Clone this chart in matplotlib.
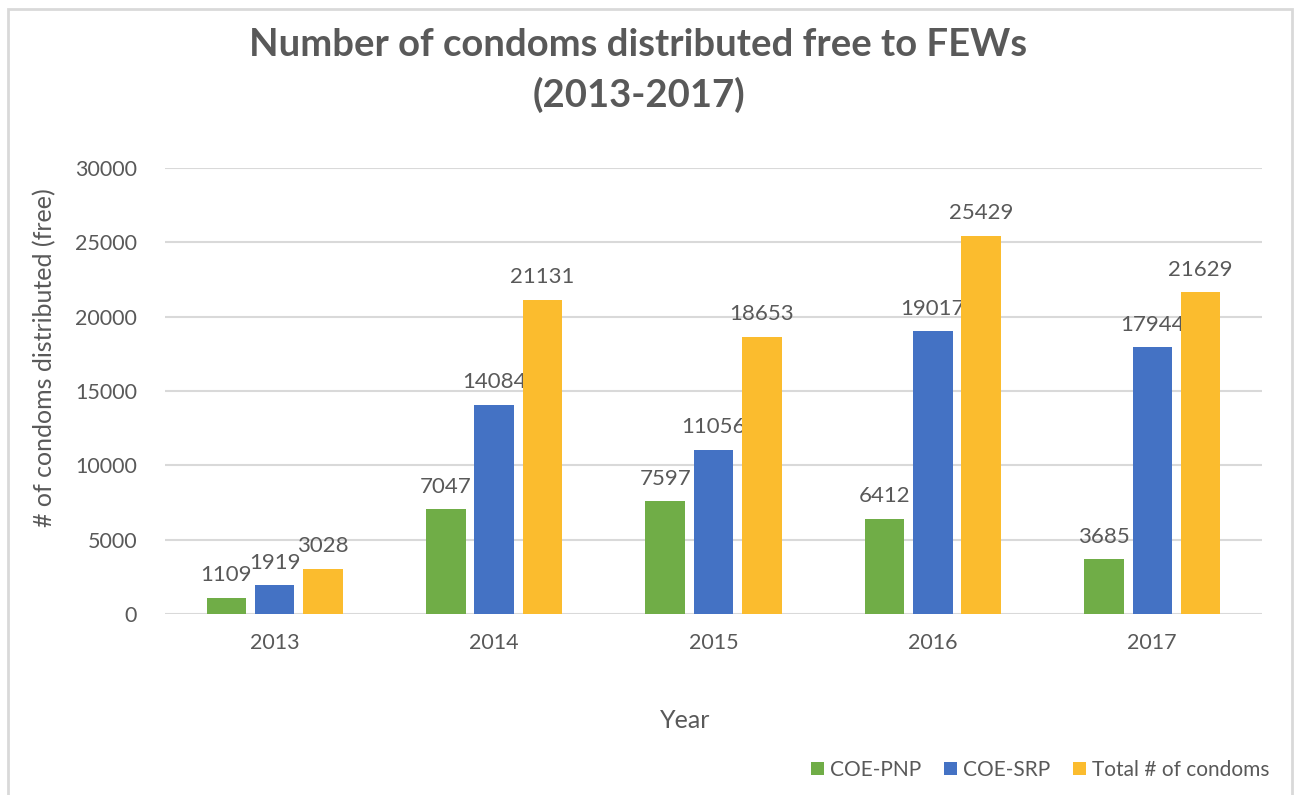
import matplotlib
matplotlib.use("Agg")
import matplotlib.pyplot as plt
import numpy as np
from matplotlib.patches import Rectangle, Patch

years = ["2013", "2014", "2015", "2016", "2017"]
coe_pnp = [1109, 7047, 7597, 6412, 3685]
coe_srp = [1919, 14084, 11056, 19017, 17944]
total_condoms = [3028, 21131, 18653, 25429, 21629]
series_names = ["COE-PNP", "COE-SRP", "Total # of condoms"]
colors = ["#70AD47", "#4472C4", "#FBBC2E"]

plt.rcParams["font.family"] = ["Lato", "DejaVu Sans"]
text_color = "#595959"
grid_color = "#D9D9D9"

W, H = 1294, 795
fig = plt.figure(figsize=(W / 100, H / 100), dpi=100)
fig.patch.set_facecolor("white")

# outer chart frame
fig.patches.append(Rectangle((8 / W, -0.05), (1292 - 8) / W, 1.05 - 9 / H,
                             transform=fig.transFigure, fill=False,
                             edgecolor=grid_color, linewidth=2))

ax = fig.add_axes([165 / W, 1 - 614 / H, (1262 - 165) / W, (614 - 168) / H])
x = np.arange(len(years))
width = 0.18
step = 0.22
for i, (vals, name, c) in enumerate(zip([coe_pnp, coe_srp, total_condoms], series_names, colors)):
    bars = ax.bar(x + (i - 1) * step, vals, width, color=c, label=name, zorder=3)
    for b, v in zip(bars, vals):
        ax.annotate(str(v), (b.get_x() + b.get_width() / 2, v), xytext=(0, 9),
                    textcoords="offset points", ha="center", va="bottom",
                    fontsize=16, color=text_color)

ax.set_xlim(-0.5, len(years) - 0.5)
ax.set_ylim(0, 30000)
ax.set_yticks(np.arange(0, 30001, 5000))
ax.set_xticks(x)
ax.set_xticklabels(years)
ax.tick_params(axis="both", length=0, labelsize=15.5, colors=text_color)
ax.tick_params(axis="y", pad=20)
ax.tick_params(axis="x", pad=14)
ax.yaxis.grid(True, color=grid_color, linewidth=1.5, zorder=0)
for s in ax.spines.values():
    s.set_visible(False)

# axis titles
fig.text(45 / W, 1 - 358 / H, "# of condoms distributed (free)", rotation=90,
         ha="center", va="center", fontsize=18, color=text_color)
fig.text(685 / W, 1 - 721 / H, "Year", ha="center", va="center",
         fontsize=18, color=text_color)

fig.text(0.5 * (250 + 1027) / W, 1 - 45 / H, "Number of condoms distributed free to FEWs",
         ha="center", va="center", fontsize=27.5, fontweight="bold", color=text_color)
fig.text(0.5 * (250 + 1027) / W, 1 - 95 / H, "(2013-2017)",
         ha="center", va="center", fontsize=27.5, fontweight="bold", color=text_color)

handles = [Patch(facecolor=c, edgecolor="none") for c in colors]
fig.legend(handles, series_names, loc="center right",
           bbox_to_anchor=(1288 / W, 1 - 770 / H), ncol=3, frameon=False,
           fontsize=15, handlelength=0.6, handleheight=0.6, handletextpad=0.3,
           columnspacing=1.1, labelcolor=text_color)

fig.savefig("out.png", dpi=100, facecolor="white")
